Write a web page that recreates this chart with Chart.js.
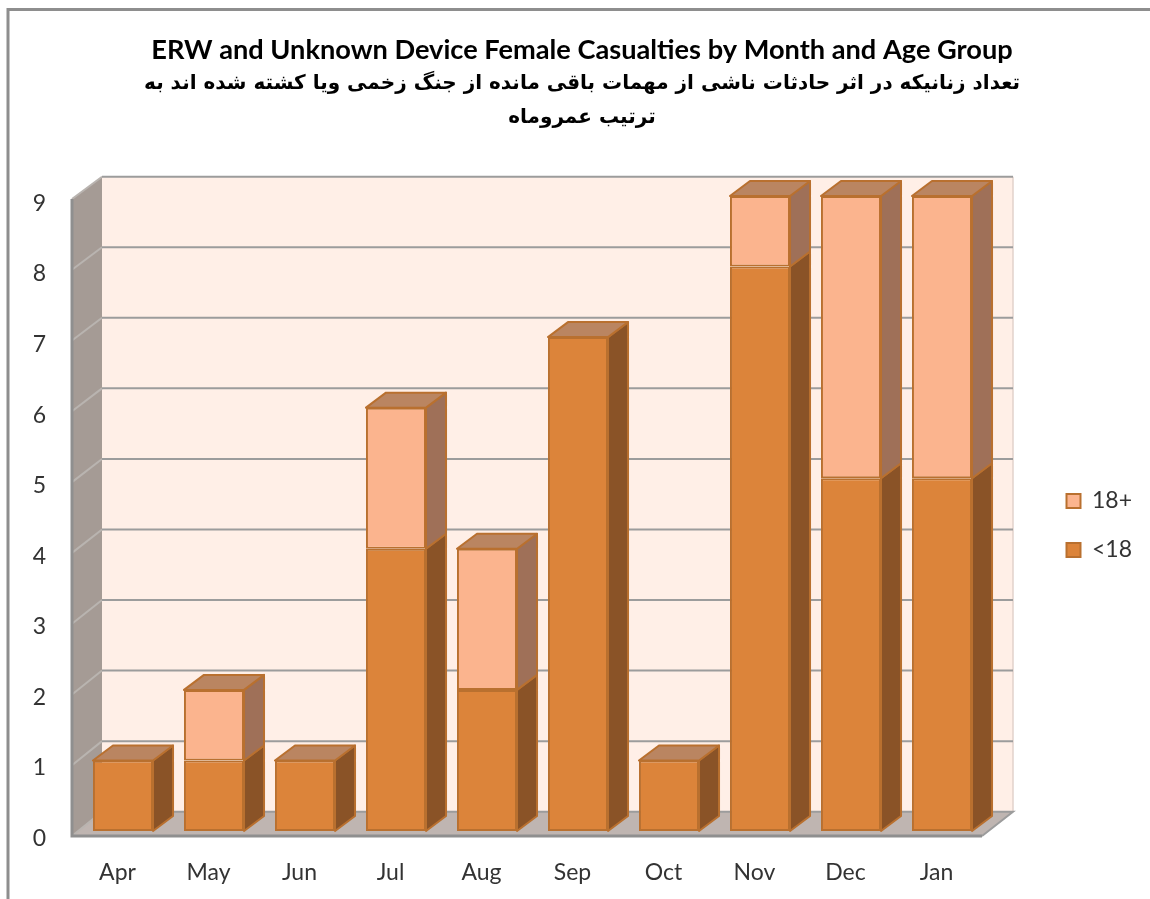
<!DOCTYPE html>
<html>
<head>
<meta charset="utf-8">
<style>html,body{margin:0;padding:0;background:#fff}canvas{display:block}</style>
<script src="https://cdn.jsdelivr.net/npm/chart.js@4/dist/chart.umd.min.js"></script>
</head>
<body>
<canvas id="c" width="1150" height="899"></canvas>
<script>
const months = ['Apr','May','Jun','Jul','Aug','Sep','Oct','Nov','Dec','Jan'];
const under18 = [1,1,1,4,2,7,1,8,5,5];
const over18 = [0,1,0,2,2,0,0,1,4,4];
const titleText = 'ERW and Unknown Device Female Casualties by Month and Age Group';
const subtitleLines = ['تعداد زنانیکه در اثر حادثات ناشی از مهمات باقی مانده از جنگ زخمی ویا کشته شده اند به','ترتیب عمروماه'];

const DX = 20, DY = 15;
const TEXT = '#333333';
const faces = [
  {front:'#dc843a', side:'#8a5327', top:'#ba8561', edge:'#b9702f'},
  {front:'#fbb48e', side:'#9f7058', top:'#ba8561', edge:'#b9702f'}
];

const scene = {
  id:'scene',
  beforeInit(chart){
    const lg = chart.legend, fit = lg.fit;
    lg.fit = function(){ fit.call(this); this.width = 162.5; };
  },
  afterLayout(chart){
    const l = chart.legend;
    l.left += 53; l.right += 53; l.top += 76; l.bottom += 76;
  },
  beforeDatasetsDraw(chart){
    const {ctx, chartArea:a, scales:{y}} = chart;
    const fl = a.left-5.5, fr = a.right-5.5, bl = a.left+24.5, br = a.right+25.5;
    const fy = v => y.getPixelForValue(v)+5-2*v/9;
    const by = v => y.getPixelForValue(v)-19.3;
    ctx.save();
    // frame
    ctx.strokeStyle='#8e8e8e'; ctx.lineWidth=3;
    ctx.beginPath(); ctx.moveTo(8,899); ctx.lineTo(8,9.5); ctx.lineTo(1150,9.5); ctx.stroke();
    // back wall
    ctx.fillStyle='#ffefe7';
    ctx.fillRect(bl,by(9),br-bl,by(0)-by(9));
    ctx.strokeStyle='#e2d2cb'; ctx.lineWidth=1.5;
    ctx.beginPath(); ctx.moveTo(br,by(9)); ctx.lineTo(br,by(0)); ctx.stroke();
    // left wall
    ctx.fillStyle='#a59b95';
    ctx.beginPath(); ctx.moveTo(fl,fy(0)); ctx.lineTo(fl,fy(9)); ctx.lineTo(bl,by(9)); ctx.lineTo(bl,by(0)); ctx.closePath(); ctx.fill();
    // floor
    ctx.fillStyle='#bfb5b1';
    ctx.beginPath(); ctx.moveTo(fl,fy(0)); ctx.lineTo(bl,by(0)); ctx.lineTo(br,by(0)); ctx.lineTo(fr,fy(0)); ctx.closePath(); ctx.fill();
    // grid lines
    ctx.lineWidth=2;
    y.ticks.forEach(t=>{
      ctx.strokeStyle='#b9b4b0';
      ctx.beginPath(); ctx.moveTo(fl,fy(t.value)); ctx.lineTo(bl,by(t.value)); ctx.stroke();
      ctx.strokeStyle='#9c9c9c';
      ctx.beginPath(); ctx.moveTo(bl,by(t.value)); ctx.lineTo(br,by(t.value));
      if(t.value===0) ctx.lineTo(fr,fy(0));
      ctx.stroke();
    });
    // front edges
    ctx.strokeStyle='#8f8f8f'; ctx.lineWidth=3;
    ctx.beginPath(); ctx.moveTo(fl,fy(9)); ctx.lineTo(fl,fy(0)); ctx.lineTo(fr,fy(0)); ctx.stroke();
    // bar sides and tops
    ctx.lineWidth=2; ctx.lineJoin='round'; ctx.strokeStyle=faces[0].edge;
    months.forEach((m,i)=>{
      let topEl=null, topF=null;
      [0,1].forEach(d=>{
        const el = chart.getDatasetMeta(d).data[i];
        if(Math.abs(el.base-el.y)<0.5) return;
        const r = el.x+el.width/2;
        ctx.fillStyle=faces[d].side;
        ctx.beginPath(); ctx.moveTo(r,el.base); ctx.lineTo(r,el.y); ctx.lineTo(r+DX,el.y-DY); ctx.lineTo(r+DX,el.base-DY); ctx.closePath(); ctx.fill(); ctx.stroke();
        topEl=el; topF=faces[d];
      });
      if(topEl){
        const l=topEl.x-topEl.width/2, r=topEl.x+topEl.width/2, t=topEl.y;
        ctx.fillStyle=topF.top;
        ctx.beginPath(); ctx.moveTo(l,t); ctx.lineTo(l+DX,t-DY); ctx.lineTo(r+DX,t-DY); ctx.lineTo(r,t); ctx.closePath(); ctx.fill(); ctx.stroke();
      }
    });
    ctx.restore();
  }
};

new Chart(document.getElementById('c'),{
  type:'bar',
  data:{labels:months,datasets:[
    {label:'<18',data:under18,backgroundColor:faces[0].front,borderColor:faces[0].edge,borderWidth:2,borderSkipped:false,barPercentage:0.66,categoryPercentage:1},
    {label:'18+',data:over18,backgroundColor:faces[1].front,borderColor:faces[1].edge,borderWidth:2,borderSkipped:false,barPercentage:0.66,categoryPercentage:1}
  ]},
  plugins:[scene],
  options:{
    responsive:false,animation:false,
    layout:{padding:{left:14,right:0,top:0,bottom:0}},
    scales:{
      x:{stacked:true,grid:{display:false,drawTicks:false},border:{display:false},
        afterFit(s){s.height=68;},
        ticks:{color:TEXT,font:{family:'Lato',size:23},padding:28,labelOffset:-5.5,maxRotation:0}},
      y:{stacked:true,min:0,max:9,grid:{display:false,drawTicks:false},border:{display:false},
        afterFit(s){s.width=63.5;},
        ticks:{stepSize:1,color:TEXT,font:{family:'Lato',size:23},padding:31.5,labelOffset:7.5}}
    },
    plugins:{
      title:{display:true,text:titleText,color:'#000',font:{family:'Lato',size:27.2,weight:'bold',lineHeight:1.2},padding:{top:34,bottom:0.6}},
      subtitle:{display:true,text:subtitleLines,color:'#000',font:{family:'"DejaVu Sans"',size:20,weight:'bold',lineHeight:1.675},padding:{top:0,bottom:61.75}},
      legend:{display:true,position:'right',align:'center',reverse:true,
        labels:{color:TEXT,font:{family:'Lato',size:23},boxWidth:14,boxHeight:14,padding:26}},
      tooltip:{enabled:false}
    }
  }
});
</script>
</body>
</html>
